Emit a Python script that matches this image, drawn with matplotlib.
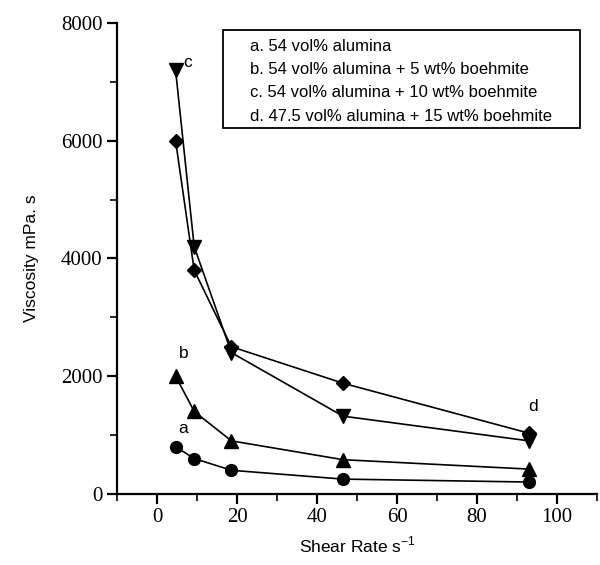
import matplotlib.pyplot as plt
from matplotlib.patches import Rectangle
from matplotlib.ticker import MultipleLocator

# shear rates (s^-1)
shear = [4.65, 9.3, 18.6, 46.5, 93]

# viscosity (mPa.s) for each suspension
visc_a = [800, 600, 400, 250, 200]
visc_b = [2000, 1400, 900, 580, 420]
visc_c = [7200, 4200, 2400, 1320, 900]
visc_d = [6000, 3800, 2500, 1880, 1030]

legend_lines = ["a. 54 vol% alumina",
                "b. 54 vol% alumina + 5 wt% boehmite",
                "c. 54 vol% alumina + 10 wt% boehmite",
                "d. 47.5 vol% alumina + 15 wt% boehmite"]

sans = "Liberation Sans"
serif = "Liberation Serif"

fig = plt.figure(figsize=(6, 5.65), dpi=100)
ax = fig.add_axes([0.195, 0.126, 0.800, 0.833])

# series
ax.plot(shear, visc_a, color="black", lw=1.2, marker="o", ms=8.5)
ax.plot(shear, visc_b, color="black", lw=1.2, marker="^", ms=9.5)
ax.plot(shear, visc_c, color="black", lw=1.2, marker="v", ms=9.5)
ax.plot(shear, visc_d, color="black", lw=1.2, marker="D", ms=7.5)

# curve letters
ax.text(shear[0] + 1.8, visc_c[0] + 60, "c", family=sans, fontsize=12.5)
ax.text(shear[0] + 2, visc_b[0] + 300, "b", family=sans, fontsize=12.5, ha="center")
ax.text(shear[0] + 1.8, visc_a[0] + 240, "a", family=sans, fontsize=12.5, ha="center")
ax.text(shear[-1] + 1, visc_d[-1] + 370, "d", family=sans, fontsize=12.5, ha="center")

# legend box (text only, no markers)
ax.add_patch(Rectangle((0.221, 0.777), 0.744, 0.208, transform=ax.transAxes,
                       fc="white", ec="black", lw=1.3, clip_on=False, zorder=3))
for i, line in enumerate(legend_lines):
    ax.text(0.277, 0.951 - i * 0.0495, line, transform=ax.transAxes,
            family=sans, fontsize=12, va="center", ha="left", zorder=4)

ax.set_xlim(-10, 110)
ax.set_ylim(0, 8000)
ax.xaxis.set_major_locator(MultipleLocator(20))
ax.xaxis.set_minor_locator(MultipleLocator(10))
ax.yaxis.set_major_locator(MultipleLocator(2000))
ax.yaxis.set_minor_locator(MultipleLocator(1000))

ax.spines["top"].set_visible(False)
ax.spines["right"].set_visible(False)
ax.spines["left"].set_linewidth(1.6)
ax.spines["bottom"].set_linewidth(1.6)
ax.tick_params(which="major", direction="out", length=7, width=1.6, labelsize=15)
ax.tick_params(which="minor", direction="out", length=5, width=1.2)
for lab in ax.get_xticklabels() + ax.get_yticklabels():
    lab.set_family(serif)

ax.set_xlabel("Shear Rate s$^{\\mathregular{-1}}$", family=sans, fontsize=12.5, labelpad=5)
ax.set_ylabel("Viscosity mPa. s", family=sans, fontsize=12.5, labelpad=16)

fig.savefig("out.png", dpi=100)
